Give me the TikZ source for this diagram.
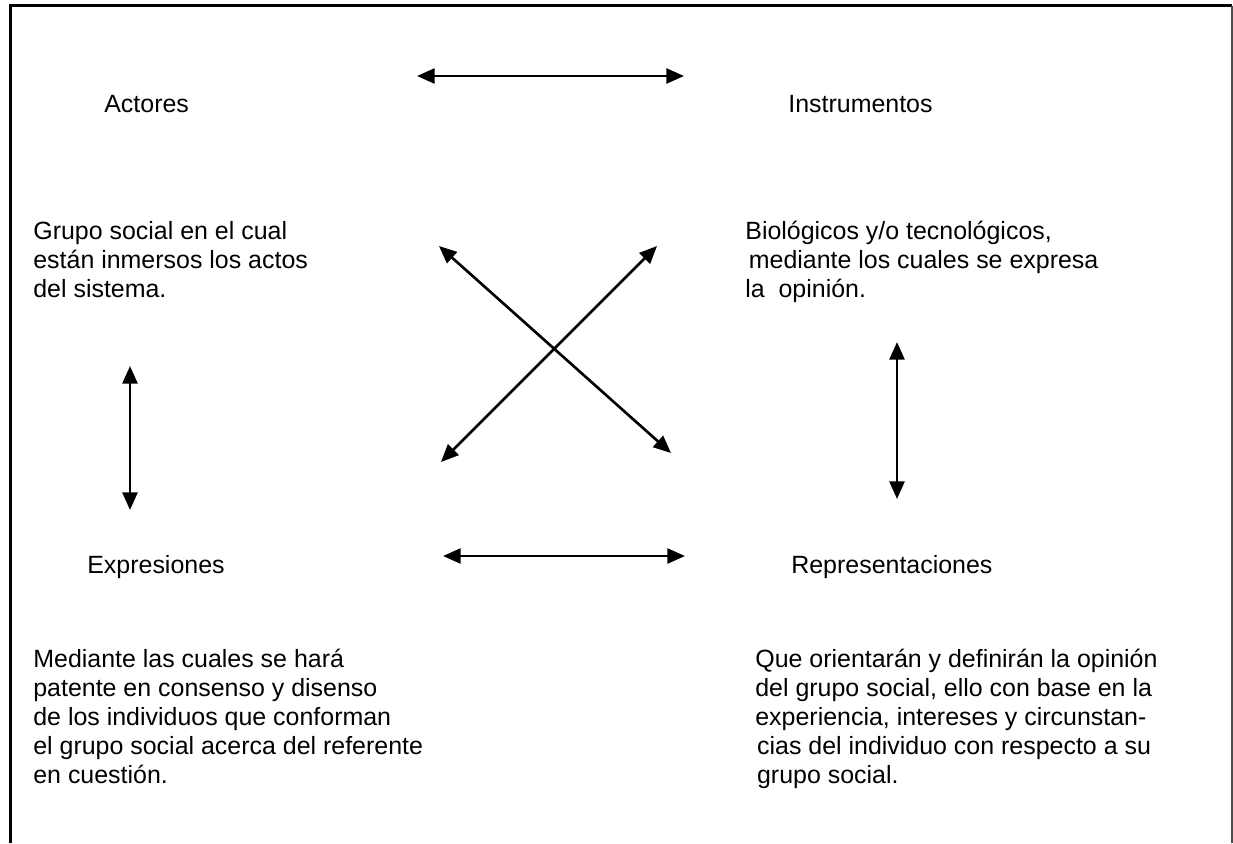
\documentclass[tikz,border=0pt]{standalone}
\usepackage{fontspec}
\setmainfont{Liberation Sans}
\usetikzlibrary{arrows.meta}

\begin{document}
\begin{tikzpicture}[x=0.02cm,y=-0.02cm]
	\tikzstyle{every node}+=[inner sep=0pt]
	\tikzstyle{txt}=[anchor=base west, align=left, font=\fontsize{14.2}{16.5}\selectfont]
	\tikzstyle{flecha}=[line width=1.5pt, {Triangle[length=10pt,width=8.5pt]}-{Triangle[length=10pt,width=8.5pt]}]
	\useasboundingbox (0,0) rectangle (1233,843);
	% marco
	\draw [line width=1.7pt] (10.5,843) -- (10.5,5.5) -- (1232,5.5);
	\draw [line width=0.6pt, black!70] (1232,5.5) -- (1232,843);
	% titulos
	\node [txt] (actores) at (104,112) {Actores};
	\node [txt] (instrumentos) at (788,112) {Instrumentos};
	\node [txt] (expresiones) at (87,573) {Expresiones};
	\node [txt] (representaciones) at (791,573) {Representaciones};
	% textos (base = ultima linea)
	\node [txt] (actoresdesc) at (33,297) {Grupo social en el cual\\están inmersos los actos\\del sistema.};
	\node [txt] (instrumentosdesc) at (745,297) {Biológicos y/o tecnológicos,\\\hspace{2pt}mediante los cuales se expresa\\la\ \ opinión.};
	\node [txt] (expresionesdesc) at (33,783) {Mediante las cuales se hará\\patente en consenso y disenso\\de los individuos que conforman\\el grupo social acerca del referente\\en cuestión.};
	\node [txt] (representacionesdesc) at (755,783) {Que orientarán y definirán la opinión\\del grupo social, ello con base en la\\experiencia, intereses y circunstan-\\\hspace{1pt}cias del individuo con respecto a su\\\hspace{1pt}grupo social.};
	% extremos de las flechas
	\coordinate (ai) at (417,76);
	\coordinate (ad) at (684,76);
	\coordinate (bi) at (443,556);
	\coordinate (bd) at (685,556);
	\coordinate (va) at (130,366);
	\coordinate (vb) at (130,510);
	\coordinate (wa) at (897,342);
	\coordinate (wb) at (897,499);
	\coordinate (xa) at (439,246);
	\coordinate (xb) at (671,453);
	\coordinate (ya) at (657,246);
	\coordinate (yb) at (441,462);
	% flechas
	\draw [flecha] (ai) -- (ad);
	\draw [flecha] (bi) -- (bd);
	\draw [flecha] (va) -- (vb);
	\draw [flecha] (wa) -- (wb);
	\draw [flecha] (xa) -- (xb);
	\draw [flecha] (ya) -- (yb);
\end{tikzpicture}
\end{document}
